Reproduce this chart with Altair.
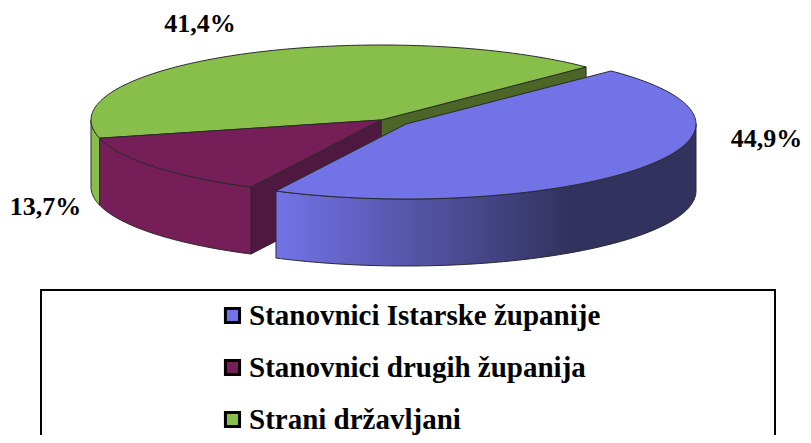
import math
import altair as alt
import pandas as pd

categories = ["Stanovnici Istarske županije", "Stanovnici drugih županija", "Strani državljani"]
shares = [44.9, 13.7, 41.4]
share_labels = ["44,9%", "13,7%", "41,4%"]
colors = ["#7373E8", "#761E58", "#88BE4A"]

# geometry of the tilted pie, in reference pixels
A, B, DEPTH = 290, 75, 67
CX, CY = 381, 120
BX, BY = 406, 124
START = 45.0
EDGE = "#2a2a2a"
blue, purple, green = shares
g0, g1 = START, START + green * 3.6
p0, p1 = g1, g1 + purple * 3.6
b0, b1 = p1, p1 + blue * 3.6


def pt(cx, cy, deg, dy=0):
    t = math.radians(deg)
    return (cx + A * math.cos(t), cy - B * math.sin(t) + dy)


def arc(cx, cy, d0, d1, dy=0):
    n = max(2, int(abs(d1 - d0)))
    return [pt(cx, cy, d0 + (d1 - d0) * i / n, dy) for i in range(n + 1)]


def poly(points, **mark):
    pts = list(points) + [points[0]]
    df = pd.DataFrame({"x": [p[0] for p in pts], "y": [p[1] for p in pts], "i": range(len(pts))})
    return alt.Chart(df).mark_line(filled=True, stroke=EDGE, strokeWidth=1, **mark).encode(
        x=X, y=Y, order="i:Q"
    )


def wall(cx, cy, d0, d1):
    return arc(cx, cy, d0, d1) + arc(cx, cy, d1, d0, DEPTH)


def inner(cx, cy, d):
    c = pt(cx, cy, d)
    return [(cx, cy), c, (c[0], c[1] + DEPTH), (cx, cy + DEPTH)]


def top(cx, cy, d0, d1, name):
    pts = [(cx, cy)] + arc(cx, cy, d0, d1) + [(cx, cy)]
    df = pd.DataFrame({"x": [p[0] for p in pts], "y": [p[1] for p in pts], "i": range(len(pts)), "name": name})
    return alt.Chart(df).mark_line(filled=True, stroke=EDGE, strokeWidth=1).encode(
        x=X, y=Y, order="i:Q",
        color=alt.Color("name:N", scale=alt.Scale(domain=categories, range=colors), legend=LEGEND),
    )


X = alt.X("x:Q", scale=alt.Scale(domain=[8, 803], nice=False, zero=False), axis=None)
Y = alt.Y("y:Q", scale=alt.Scale(domain=[435, 8], nice=False, zero=False), axis=None)
LEGEND = alt.Legend(
    title=None, orient="none", legendX=210, legendY=293, symbolType="square", symbolSize=200,
    symbolStrokeColor="black", symbolStrokeWidth=3, labelFont="Liberation Serif", labelFontWeight="bold",
    labelFontSize=29, labelColor="black", rowPadding=22, labelOffset=2, labelLimit=500,
)

blue_grad = alt.LinearGradient(
    gradient="linear", x1=0, x2=1, y1=0, y2=0,
    stops=[alt.GradientStop(offset=0, color="#7373E8"), alt.GradientStop(offset=0.7, color="#32325F"),
           alt.GradientStop(offset=1, color="#32325F")],
)

box = alt.Chart(pd.DataFrame({"x": [41], "x2": [775], "y": [290], "y2": [440]})).mark_rect(
    fill="white", stroke="black", strokeWidth=2
).encode(x=X, x2="x2:Q", y=Y, y2="y2:Q")

labels = alt.Chart(pd.DataFrame({"t": share_labels, "x": [766.5, 45.5, 200], "y": [147, 215, 31.5]})).mark_text(
    font="Liberation Serif", fontWeight="bold", fontSize=26, color="black", baseline="alphabetic"
).encode(x=X, y=Y, text="t:N")

chart = alt.layer(
    box,
    poly(inner(CX, CY, g0), fill="#4B6626"),
    poly(inner(CX, CY, p1), fill="#4E1840"),
    poly(wall(CX, CY, 180, g1), fill=colors[2]),
    poly(wall(CX, CY, p0, p1), fill=colors[1]),
    top(CX, CY, g0, g1, categories[2]),
    top(CX, CY, p0, p1, categories[1]),
    poly(wall(BX, BY, b0, 360), fill=blue_grad),
    top(BX, BY, b0, b1, categories[0]),
    labels,
).properties(
    width=795, height=427, padding=0, autosize=alt.AutoSizeParams(type="none"),
    background="white",
).configure_view(stroke=None)

chart.save("out.html", embed_options={"renderer": "svg", "actions": False})
